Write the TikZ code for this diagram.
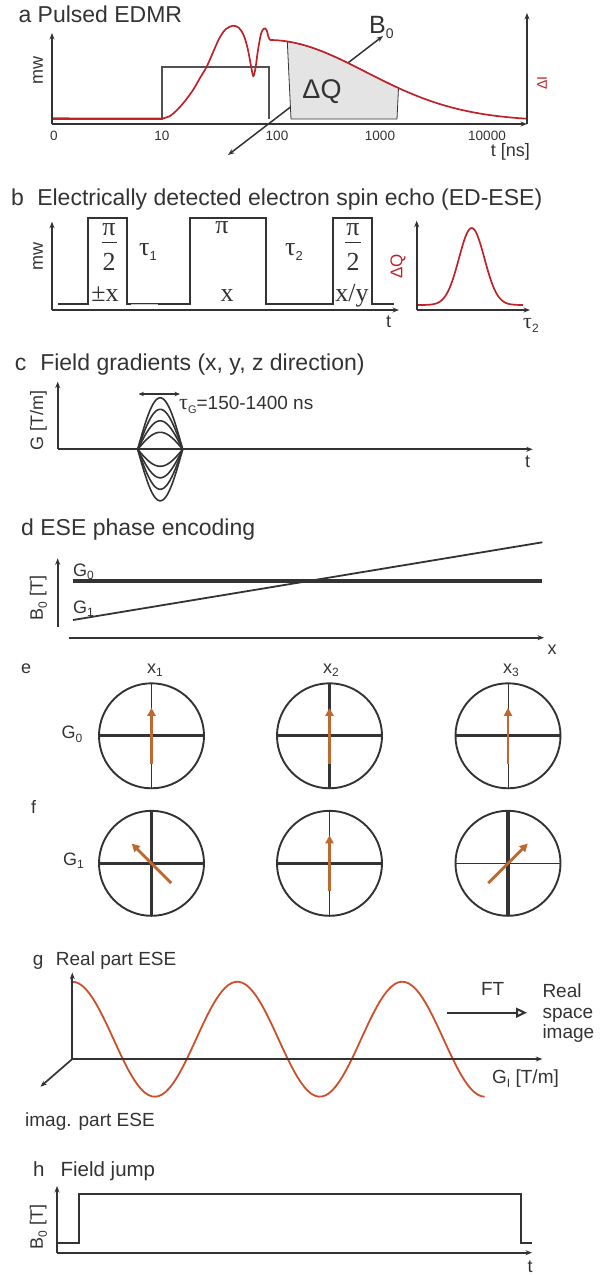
\documentclass[tikz,border=0pt]{standalone}
\usepackage{fontspec}
\setmainfont{Liberation Sans}
\newfontfamily\grserif{Liberation Serif}
\usetikzlibrary{arrows.meta}
\definecolor{ink}{RGB}{51,51,51}
\definecolor{edred}{RGB}{190,35,42}
\definecolor{cosred}{RGB}{204,80,44}
\definecolor{spinor}{RGB}{191,104,48}
\definecolor{qgray}{RGB}{228,228,228}
\newcommand{\fsz}[1]{\fontsize{#1}{#1}\selectfont}
\newcommand{\dn}[2]{\raisebox{-0.22em}{\fsz{#1}#2}}
\tikzset{
  ax/.style={ink,line width=1.7pt,-{Stealth[length=6.5pt,width=5pt]}},
  ttl/.style={anchor=base west,inner sep=0pt,text=ink,font=\fsz{23}},
  lbl/.style={inner sep=0pt,text=ink,font=\fsz{18}},
  tck/.style={inner sep=0pt,text=ink,font=\fsz{13.5}},
  grk/.style={anchor=base,inner sep=0pt,text=ink,font=\grserif\fsz{26}},
  sig/.style={ink,line width=2.2pt},
  spin/.style={spinor,line width=2.8pt,-{Triangle[length=8pt,width=8pt]}},
}
\begin{document}
\begin{tikzpicture}[x=1pt,y=-1pt]
\useasboundingbox (0,0) rectangle (603,1275);
% a Pulsed EDMR
\node[ttl] (ta) at (18.3,22.7) {a Pulsed EDMR};
\draw[ink,line width=1.5pt,{Stealth[length=6.5pt,width=5pt]}-{Stealth[length=6.5pt,width=5pt]}] (228,155) -- (383,36);
\draw[ink!85,line width=1.6pt] (52,119) -- (162,119) -- (162,66.7) -- (269,66.7) -- (269,119);
\filldraw[fill=qgray,draw=ink,line width=0.8pt] (291,119) -- (397,119)
  -- plot[domain=398.5:287.3,samples=40] (\x,{40+81*(1-exp(-((\x-269)/136.6)^2))}) -- cycle;
\draw[edred,line width=1.7pt] (52,118.3) -- (162,118.6);
\draw[edred,line width=1.7pt] plot[smooth,tension=0.55] coordinates {(162,118.6) (170,116) (177,110) (185,101)
  (193,90) (200,78) (207,66) (214,50) (220,37) (226,29) (233,25.7) (239,28) (244,36) (248,50) (251,66)
  (253.3,76) (255.5,68) (258,50) (261,34) (264,28.5) (266.5,30) (268.5,37) (270,40)};
\draw[edred,line width=1.7pt] plot[domain=270:527,samples=60] (\x,{40+81*(1-exp(-((\x-269)/136.6)^2))});
\draw[ax] (52,124) -- (52,33);
\draw[ax] (52,124) -- (527,124);
\draw[ax] (527,124) -- (527,13);
\node[tck] (t0) at (54,136) {0};
\node[tck] (t10) at (162,136) {10};
\node[tck] (t100) at (277,136) {100};
\node[tck] (t1k) at (380,136) {1000};
\node[tck] (t10k) at (487,136) {10000};
\node[lbl,anchor=east] (tns) at (530,152) {t [ns]};
\node[lbl,rotate=90] (mwa) at (38,70) {mw};
\node[inner sep=0pt,text=edred,font=\fsz{14},rotate=90] (dI) at (542,83) {ΔI};
\node[inner sep=0pt,text=ink,font=\fsz{27}] (dQa) at (322,92) {ΔQ};
\node[inner sep=0pt,text=ink,font=\fsz{25},anchor=base west] (B0) at (369,33) {B\dn{14}{0}};
% b ED-ESE
\node[ttl] (tb) at (10.8,205.7) {b\hspace{13.5pt}Electrically detected electron spin echo (ED-ESE)};
\draw[sig] (58,304.3) -- (88.3,304.3) -- (88.3,217.7) -- (126.7,217.7) -- (126.7,304.3) -- (190,304.3)
  -- (190,217.7) -- (265.7,217.7) -- (265.7,304.3) -- (333.3,304.3) -- (333.3,217.7) -- (372.3,217.7)
  -- (372.3,304.3) -- (394.3,304.3);
\draw[ink!25,line width=1.2pt] (131,304.3) -- (158,304.3);
\draw[ax] (52,310) -- (52,221.7);
\draw[ax] (52,310) -- (399,310);
\node[grk] (pia) at (109,235) {π};
\draw[ink,line width=1.4pt] (101.7,242.7) -- (116.7,242.7);
\node[grk] (twoa) at (109,270) {2};
\node[grk] (pmx) at (105,301.7) {±x};
\node[grk,anchor=base west] (tau1) at (139,255) {τ\dn{13}{\rmfamily 1}};
\node[grk] (pib) at (222,233.3) {π};
\node[grk] (xb) at (227,301.7) {x};
\node[grk,anchor=base west] (tau2) at (285,255) {τ\dn{13}{\rmfamily 2}};
\node[grk] (pic) at (353,235) {π};
\draw[ink,line width=1.4pt] (345,242.7) -- (361,242.7);
\node[grk] (twoc) at (353,270) {2};
\node[grk] (xyc) at (352,301.7) {x/y};
\node[lbl,rotate=90] (mwb) at (38,256.7) {mw};
\node[lbl] (tb1) at (388.5,322) {t};
% Echo
\draw[edred,line width=1.7pt] plot[domain=417:523,samples=80] (\x,{305-77*exp(-((\x-471.7)/18)^2)});
\draw[ax] (416.7,310) -- (416.7,220.7);
\draw[ax] (416.7,310) -- (530,310);
\node[inner sep=0pt,text=edred,font=\fsz{17},rotate=90] (dQb) at (398,266.7) {ΔQ};
\node[inner sep=0pt,text=ink,anchor=base west] (tau2b) at (523,328) {\grserif\fsz{22}τ\dn{12}{\rmfamily 2}};
% c Feldgradienten
\node[ttl] (tc) at (14.6,370.7) {c\hspace{14pt}Field gradients (x, y, z direction)};
\foreach \amp in {17,28.5,40,51.5}{
  \draw[ink,line width=1.6pt] plot[domain=137.7:182.7,samples=30] (\x,{449.3-\amp*sin(4*(\x-137.7))});
  \draw[ink,line width=1.6pt] plot[domain=137.7:182.7,samples=30] (\x,{449.3+\amp*sin(4*(\x-137.7))});
}
\draw[ax] (57.7,449.3) -- (57.7,381.7);
\draw[ax] (57.7,449.3) -- (532.7,449.3);
\draw[ink,line width=1.4pt,{Stealth[length=5.5pt,width=4.5pt]}-{Stealth[length=5.5pt,width=4.5pt]}] (138.5,394) -- (180,394);
\node[inner sep=0pt,text=ink,font=\fsz{19},anchor=base west] (tauG) at (179,409)
  {{\grserif\fsz{22}τ}\dn{11}{G}=150-1400 ns};
\node[lbl,rotate=90] (Gc) at (38.5,420) {G [T/m]};
\node[lbl] (tcx) at (527.7,461.7) {t};
% d Phasenkodierung
\node[ttl] (td) at (21,535) {d ESE phase encoding};
\draw[ax] (57.7,626.7) -- (57.7,558.3);
\draw[ax] (69,637.7) -- (544,637.7);
\draw[ink,line width=3.2pt] (73,581) -- (542.3,581);
\draw[ink,line width=1.8pt] (73,620) -- (542.3,542.3);
\node[lbl,anchor=base west] (G0d) at (73,576) {G\dn{12}{0}};
\node[lbl,anchor=base west] (G1d) at (73,613) {G\dn{12}{1}};
\node[lbl,rotate=90] (B0d) at (38.5,598.3) {B\dn{12}{0} [T]};
\node[lbl] (xd) at (552,650) {x};
% e, f Spinzeiger
\node[lbl,anchor=base west] (te) at (21,673) {e};
\node[lbl,anchor=base] (x1) at (155,673) {x\dn{12}{1}};
\node[lbl,anchor=base] (x2) at (331,673) {x\dn{12}{2}};
\node[lbl,anchor=base] (x3) at (511,673) {x\dn{12}{3}};
\node[lbl,anchor=base west] (G0e) at (61.5,738.3) {G\dn{12}{0}};
\node[lbl,anchor=base west] (tf) at (30.8,813) {f};
\node[lbl,anchor=base west] (G1f) at (63,865) {G\dn{12}{1}};
\foreach \cy/\cx/\hw/\vw/\ang in {735.8/151.5/3.3/0.9/90, 735.8/329.5/3.3/3.3/90, 735.8/508/3.3/0.9/90,
    863.3/151.5/3.3/3.3/135, 863.3/329.5/3.3/0.9/90, 863.3/508/0.9/3.3/45}{
  \draw[ink,line width=\hw pt] (\cx-52.5,\cy) -- (\cx+52.5,\cy);
  \draw[ink,line width=\vw pt] (\cx,\cy-52.5) -- (\cx,\cy+52.5);
  \draw[ink,line width=1.9pt] (\cx,\cy) circle[radius=52.5];
  \draw[spin] ({\cx-28*cos(\ang)},{\cy+28*sin(\ang)}) -- ({\cx+28*cos(\ang)},{\cy-28*sin(\ang)});
}
% g Realteil
\node[ttl,font=\fsz{19}] (tg) at (32.7,965) {g\hspace{12.5pt}Real part ESE};
\draw[cosred,line width=1.8pt] plot[domain=72.3:484.6,samples=120] (\x,{1039.2-57.5*cos(2.1818*(\x-72.3))});
\draw[ax] (72.3,1059) -- (72.3,972.7);
\draw[ax] (72.3,1059) -- (542.3,1059);
\draw[ax] (72.3,1059) -- (40.4,1086.7);
\node[lbl,font=\fsz{19},anchor=base west] (img) at (25,1126) {imag. part ESE};
\node[lbl,font=\fsz{19},anchor=base west] (GI) at (492,1083) {G\dn{12}{I} [T/m]};
\node[lbl,font=\fsz{19},anchor=base west] (FT) at (480.8,995) {FT};
\coordinate (fta) at (447,1012.7);
\coordinate (ftb) at (527,1012.7);
\draw[ink,line width=2pt,-{Triangle[open,length=11pt,width=10pt]}] (fta) -- (ftb);
\node[lbl,font=\fsz{19},anchor=base west] (rsi1) at (542.3,997.3) {Real};
\node[lbl,font=\fsz{19},anchor=base west] (rsi2) at (542.3,1018.3) {space};
\node[lbl,font=\fsz{19},anchor=base west] (rsi3) at (542.3,1038.3) {image};
% h Feldsprung
\node[ttl,font=\fsz{20.5}] (th) at (33,1176.7) {h\hspace{16pt}Field jump};
\draw[sig] (57.7,1243.3) -- (78.8,1243.3) -- (78.8,1194.3) -- (521,1194.3) -- (521,1243.3) -- (532,1243.3);
\draw[ax] (57,1252.7) -- (57,1186);
\draw[ax] (57,1252.7) -- (532,1252.7);
\node[lbl,rotate=90] (B0h) at (38.5,1226.7) {B\dn{12}{0} [T]};
\node[lbl] (th2) at (530,1266.7) {t};
\end{tikzpicture}
\end{document}
